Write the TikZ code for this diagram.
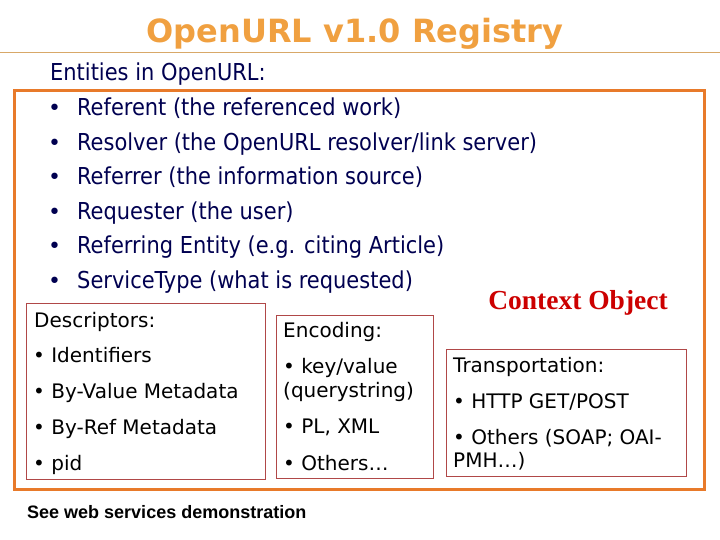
\documentclass[tikz,border=0pt]{standalone}
\usepackage{fontspec}
\setmainfont{DejaVu Sans}
\newfontfamily\condfont{DejaVu Sans Condensed}
\newfontfamily\titlefont{DejaVu Sans}
\newfontfamily\seriffont{Liberation Serif}
\newfontfamily\arialfont{Liberation Sans}
\definecolor{titleor}{HTML}{F0A040}
\definecolor{ruleor}{HTML}{D8A868}
\definecolor{boxor}{HTML}{E87A2A}
\definecolor{navy}{HTML}{000050}
\definecolor{inred}{HTML}{B04848}
\definecolor{coRed}{HTML}{CC0000}
\begin{document}
\begin{tikzpicture}[x=1pt,y=-1pt,
  ent/.style={anchor=base west,inner sep=0pt,text=navy,font=\condfont\fontsize{23.3}{26}\selectfont},
  bul/.style={anchor=base west,inner sep=0pt,text=navy,font=\fontsize{22}{22}\selectfont},
  btxt/.style={anchor=base west,inner sep=0pt,text=black,font=\fontsize{20}{22}\selectfont},
  inbox/.style={draw=inred,line width=0.9pt},
]
\useasboundingbox (0,0) rectangle (720,540);
\node[anchor=base,inner sep=0pt,text=titleor,font=\titlefont\bfseries\fontsize{32}{36}\selectfont] (title) at (355,43) {OpenURL v1.0 Registry};
\coordinate (rl) at (0,52.5);
\coordinate (rr) at (720,52.5);
\draw[ruleor,line width=1.5pt] (rl) -- (rr);
\node[ent] (hdr) at (50,81) {Entities in OpenURL:};
\draw[boxor,line width=3pt] (14,91) rectangle (704,489);
\foreach \y/\t [count=\i] in {116/{Referent (the referenced work)},
  151/{Resolver (the OpenURL resolver/link server)},
  185/{Referrer (the information source)},
  220/{Requester (the user)},
  254/{Referring Entity (e.g. citing Article)},
  288/{ServiceType (what is requested)}}{
  \node[bul] (b\i) at (48,\y) {•};
  \node[ent] (e\i) at (77,\y) {\t};
}
\node[anchor=base,inner sep=0pt,text=coRed,font=\seriffont\bfseries\fontsize{27.5}{30}\selectfont] (co) at (578,309) {Context Object};
% Descriptors box
\draw[inbox] (26,303) rectangle (265,479);
\node[btxt] (d0) at (34,327) {Descriptors:};
\node[btxt] (d1) at (33,362) {• Identifiers};
\node[btxt] (d2) at (33,398) {• By-Value Metadata};
\node[btxt] (d3) at (33,434) {• By-Ref Metadata};
\node[btxt] (d4) at (33,470) {• pid};
% Encoding box
\draw[inbox] (276,315) rectangle (433,478);
\node[btxt] (n0) at (283,337) {Encoding:};
\node[btxt] (n1) at (283,373) {• key/value};
\node[btxt] (n2) at (283,397) {(querystring)};
\node[btxt] (n3) at (283,433) {• PL, XML};
\node[btxt] (n4) at (283,470) {• Others…};
% Transportation box
\draw[inbox] (446,349) rectangle (686,476);
\node[btxt] (t0) at (453,372) {Transportation:};
\node[btxt] (t1) at (453,408) {• HTTP GET/POST};
\node[btxt] (t2) at (453,444) {• Others (SOAP; OAI-};
\node[btxt] (t3) at (453,467) {PMH…)};
\node[anchor=base west,inner sep=0pt,font=\arialfont\bfseries\fontsize{18}{20}\selectfont] (see) at (27,518) {See web services demonstration};
\end{tikzpicture}
\end{document}
